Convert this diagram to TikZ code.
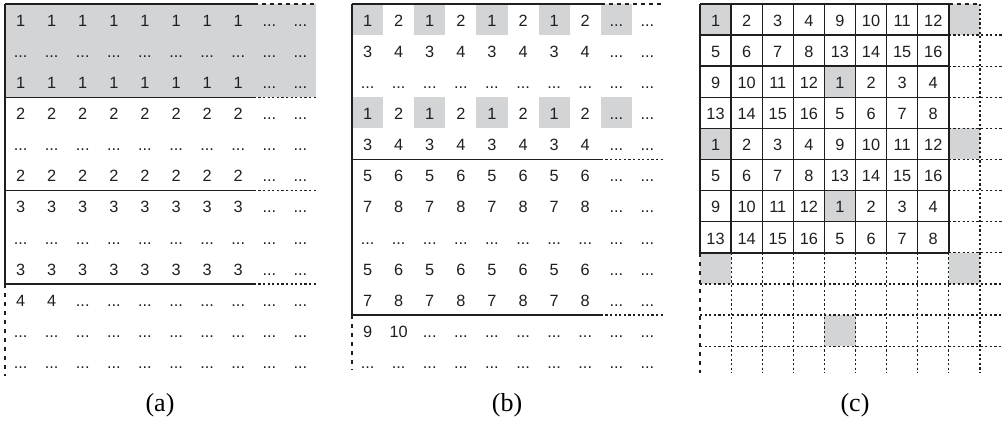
\documentclass[tikz,border=0pt]{standalone}
\usepackage{fontspec}
\setmainfont{Liberation Sans}
\newfontfamily\capfont{Liberation Serif}
\definecolor{ink}{HTML}{1F1F1F}
\definecolor{cellgray}{HTML}{D3D4D6}
\newcommand\dd{...}
\newcommand\cs{31.1}
\newcommand\gridrow[4]{%
  \foreach \t [count=\c] in {#4} {%
    \node[cell] (#1-#3-\c) at ({#2+(\c-0.5)*\cs},{4+(#3-0.5)*\cs+6.8}) {\t};
  }}
\begin{document}
\begin{tikzpicture}[x=1pt,y=-1pt,
  cell/.style={text=ink, font=\fontsize{16.3}{18}\selectfont, inner sep=0pt, anchor=base},
  solidline/.style={draw=ink, line width=1.4pt},
  topline/.style={draw=ink, line width=2pt},
  topdash/.style={draw=ink, line width=2pt, dash pattern=on 4pt off 4pt},
  dotline/.style={draw=ink, line width=1.2pt, dash pattern=on 2.2pt off 2.4pt},
  sidedash/.style={draw=ink, line width=1.4pt, dash pattern=on 4pt off 5pt},
  shade/.style={fill=cellgray, draw=none},
  caption/.style={font=\capfont\fontsize{26}{28}\selectfont, text=black, inner sep=0pt}]
\useasboundingbox[fill=white] (0,0) rectangle (1002,425);

% ================= panel (a) =================
\fill[shade] (5,4) rectangle ({5+10*\cs},{4+3*\cs});
\gridrow{a}{5}{1}{1,1,1,1,1,1,1,1,\dd,\dd}
\gridrow{a}{5}{2}{\dd,\dd,\dd,\dd,\dd,\dd,\dd,\dd,\dd,\dd}
\gridrow{a}{5}{3}{1,1,1,1,1,1,1,1,\dd,\dd}
\gridrow{a}{5}{4}{2,2,2,2,2,2,2,2,\dd,\dd}
\gridrow{a}{5}{5}{\dd,\dd,\dd,\dd,\dd,\dd,\dd,\dd,\dd,\dd}
\gridrow{a}{5}{6}{2,2,2,2,2,2,2,2,\dd,\dd}
\gridrow{a}{5}{7}{3,3,3,3,3,3,3,3,\dd,\dd}
\gridrow{a}{5}{8}{\dd,\dd,\dd,\dd,\dd,\dd,\dd,\dd,\dd,\dd}
\gridrow{a}{5}{9}{3,3,3,3,3,3,3,3,\dd,\dd}
\gridrow{a}{5}{10}{4,4,\dd,\dd,\dd,\dd,\dd,\dd,\dd,\dd}
\gridrow{a}{5}{11}{\dd,\dd,\dd,\dd,\dd,\dd,\dd,\dd,\dd,\dd}
\gridrow{a}{5}{12}{\dd,\dd,\dd,\dd,\dd,\dd,\dd,\dd,\dd,\dd}
\draw[topline] (5,4) -- ({5+8*\cs},4);
\draw[topdash] ({5+8*\cs},4) -- ({5+10*\cs},4);
\foreach \k in {3,6,9} {
  \draw[solidline] (5,{4+\k*\cs}) -- ({5+8*\cs},{4+\k*\cs});
  \draw[dotline] ({5+8*\cs},{4+\k*\cs}) -- ({5+10*\cs},{4+\k*\cs});
}
\draw[solidline] (5,4) -- (5,{4+9*\cs});
\draw[sidedash] (5,{4+9*\cs}) -- (5,376);
\node[caption] (capa) at (160,405) {(a)};

% ================= panel (b) =================
\foreach \r in {1,4} \foreach \c in {1,3,5,7,9}
  \fill[shade] ({352+(\c-1)*\cs},{4+(\r-1)*\cs}) rectangle ++(\cs,\cs);
\gridrow{b}{352}{1}{1,2,1,2,1,2,1,2,\dd,\dd}
\gridrow{b}{352}{2}{3,4,3,4,3,4,3,4,\dd,\dd}
\gridrow{b}{352}{3}{\dd,\dd,\dd,\dd,\dd,\dd,\dd,\dd,\dd,\dd}
\gridrow{b}{352}{4}{1,2,1,2,1,2,1,2,\dd,\dd}
\gridrow{b}{352}{5}{3,4,3,4,3,4,3,4,\dd,\dd}
\gridrow{b}{352}{6}{5,6,5,6,5,6,5,6,\dd,\dd}
\gridrow{b}{352}{7}{7,8,7,8,7,8,7,8,\dd,\dd}
\gridrow{b}{352}{8}{\dd,\dd,\dd,\dd,\dd,\dd,\dd,\dd,\dd,\dd}
\gridrow{b}{352}{9}{5,6,5,6,5,6,5,6,\dd,\dd}
\gridrow{b}{352}{10}{7,8,7,8,7,8,7,8,\dd,\dd}
\gridrow{b}{352}{11}{9,10,\dd,\dd,\dd,\dd,\dd,\dd,\dd,\dd}
\gridrow{b}{352}{12}{\dd,\dd,\dd,\dd,\dd,\dd,\dd,\dd,\dd,\dd}
\draw[topline] (352,4) -- ({352+8*\cs},4);
\draw[topdash] ({352+8*\cs},4) -- ({352+10*\cs},4);
\foreach \k in {5,10} {
  \draw[solidline] (352,{4+\k*\cs}) -- ({352+8*\cs},{4+\k*\cs});
  \draw[dotline] ({352+8*\cs},{4+\k*\cs}) -- ({352+10*\cs},{4+\k*\cs});
}
\draw[solidline] (352,4) -- (352,{4+10*\cs});
\draw[sidedash] (352,{4+10*\cs}) -- (352,370);
\node[caption] (capb) at (507,405) {(b)};

% ================= panel (c) =================
\foreach \r/\c in {1/1,3/5,5/1,7/5,1/9,5/9,9/1,9/9,11/5}
  \fill[shade] ({700+(\c-1)*\cs},{4+(\r-1)*\cs}) rectangle ++(\cs,\cs);
\gridrow{c}{700}{1}{1,2,3,4,9,10,11,12}
\gridrow{c}{700}{2}{5,6,7,8,13,14,15,16}
\gridrow{c}{700}{3}{9,10,11,12,1,2,3,4}
\gridrow{c}{700}{4}{13,14,15,16,5,6,7,8}
\gridrow{c}{700}{5}{1,2,3,4,9,10,11,12}
\gridrow{c}{700}{6}{5,6,7,8,13,14,15,16}
\gridrow{c}{700}{7}{9,10,11,12,1,2,3,4}
\gridrow{c}{700}{8}{13,14,15,16,5,6,7,8}
% dotted extensions
\foreach \k in {1,...,8}
  \draw[dotline] ({700+8*\cs},{4+\k*\cs}) -- (1002,{4+\k*\cs});
\foreach \k in {9,10,11}
  \draw[dotline] (700,{4+\k*\cs}) -- (1002,{4+\k*\cs});
\foreach \k in {1,...,8}
  \draw[dotline] ({700+\k*\cs},{4+8*\cs}) -- ({700+\k*\cs},373);
\draw[dotline] ({700+9*\cs},4) -- ({700+9*\cs},373);
\draw[topdash] ({700+8*\cs},4) -- ({700+9*\cs},4);
\draw[sidedash] (700,{4+8*\cs}) -- (700,373);
% solid grid
\foreach \k in {1,...,8}
  \draw[solidline] (700,{4+\k*\cs}) -- ({700+8*\cs},{4+\k*\cs});
\foreach \k in {0,...,8}
  \draw[solidline] ({700+\k*\cs},4) -- ({700+\k*\cs},{4+8*\cs});
\draw[topline] (700,4) -- ({700+8*\cs},4);
\node[caption] (capc) at (855,405) {(c)};
\end{tikzpicture}
\end{document}
